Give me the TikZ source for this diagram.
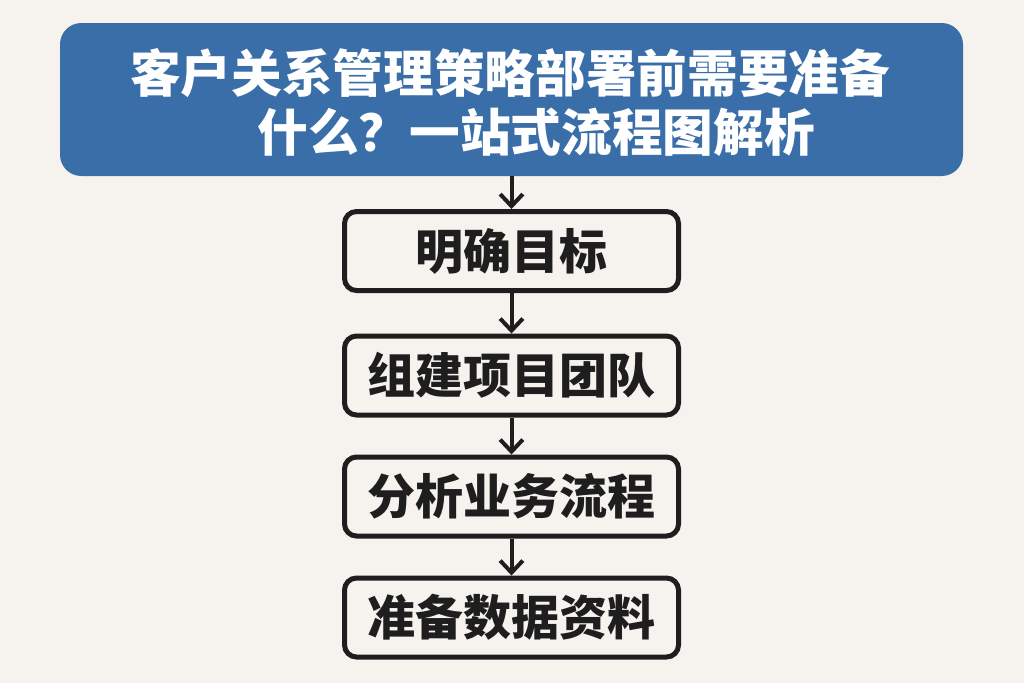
\documentclass[tikz,border=0pt]{standalone}
\usepackage{fontspec}
\setmainfont{Noto Sans CJK SC}
\usetikzlibrary{arrows.meta}
\definecolor{bgc}{HTML}{F6F3EE}
\definecolor{titleblue}{HTML}{3A6EA8}
\definecolor{ink}{HTML}{1E1E1E}
\tikzset{
  px/.style={x=0.75pt,y=-0.75pt},
  stepbox/.style={draw=ink, line width=3.75pt, rounded corners=9pt, fill=bgc,
    minimum width=250.5pt, minimum height=59.25pt, inner sep=0pt,
    font=\fontsize{36pt}{40pt}\selectfont\bfseries, text=ink},
  titletext/.style={inner sep=0pt, text=white, font=\fontsize{38pt}{44pt}\selectfont\bfseries},
  flow/.style={draw=ink, line width=3pt, -{Straight Barb[length=9pt,width=17pt,line width=3pt]}}
}
\begin{document}
\begin{tikzpicture}[px]
\fill[bgc] (0,0) rectangle (1024,683);
\useasboundingbox (0,0) rectangle (1024,683);
\node[fill=titleblue, rounded corners=16pt, minimum width=677.25pt, minimum height=114.75pt, inner sep=0pt] (title) at (511.5,99.5) {};
\node[titletext] (t1) at (510,73) {客户关系管理策略部署前需要准备};
\node[titletext] (t2) at (536,132) {什么？一站式流程图解析};
\node[stepbox] (b1) at (511.5,251) {明确目标};
\node[stepbox] (b2) at (511.5,375.5) {组建项目团队};
\node[stepbox] (b3) at (511.5,496.5) {分析业务流程};
\node[stepbox] (b4) at (511.5,617.5) {准备数据资料};
\draw[flow] (title.south) -- (b1.north);
\draw[flow] (b1.south) -- (b2.north);
\draw[flow] (b2.south) -- (b3.north);
\draw[flow] (b3.south) -- (b4.north);
\end{tikzpicture}
\end{document}
